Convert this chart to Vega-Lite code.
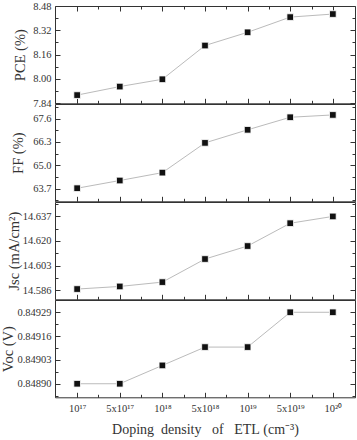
{
  "$schema": "https://vega.github.io/schema/vega-lite/v6.json",
  "padding": {"left": 0, "top": 0, "right": 0, "bottom": 0},
  "config": {
    "font": "Liberation Serif",
    "view": {"stroke": "#333", "strokeWidth": 1},
    "axis": {
      "domain": false,
      "grid": false,
      "tickColor": "#333",
      "tickWidth": 1,
      "labelFont": "Liberation Serif",
      "labelFontSize": 10.5,
      "labelColor": "#333",
      "labelFlush": false,
      "titleFont": "Liberation Serif",
      "titleFontWeight": "normal",
      "titleColor": "#333",
      "titleFontSize": 14.5
    }
  },
  "datasets": {
    "d": [
      {"idx": 0, "PCE": 7.894, "FF": 63.72, "Jsc": 14.5867, "Voc": 0.84890},
      {"idx": 1, "PCE": 7.950, "FF": 64.15, "Jsc": 14.5885, "Voc": 0.84890},
      {"idx": 2, "PCE": 7.998, "FF": 64.59, "Jsc": 14.5915, "Voc": 0.84900},
      {"idx": 3, "PCE": 8.220, "FF": 66.25, "Jsc": 14.6075, "Voc": 0.84910},
      {"idx": 4, "PCE": 8.307, "FF": 66.98, "Jsc": 14.6165, "Voc": 0.84910},
      {"idx": 5, "PCE": 8.407, "FF": 67.68, "Jsc": 14.6323, "Voc": 0.84929},
      {"idx": 6, "PCE": 8.427, "FF": 67.81, "Jsc": 14.6370, "Voc": 0.84929}
    ]
  },
  "spacing": 0,
  "bounds": "flush",
  "vconcat": [
    {
      "width": 300, "height": 97.3,
      "data": {"name": "d"},
      "resolve": {"axis": {"x": "independent", "y": "independent"}},
      "layer": [
        {"mark": {"type": "line", "color": "#bbbbbb", "strokeWidth": 1},
         "encoding": {
           "x": {"field": "idx", "type": "quantitative", "scale": {"domain": [-0.52, 6.52], "nice": false, "zero": false},
                 "axis": {"orient": "bottom", "values": [0,1,2,3,4,5,6], "tickSize": -5, "labels": false, "title": null}},
           "y": {"field": "PCE", "type": "quantitative", "scale": {"domain": [7.84, 8.48], "nice": false, "zero": false},
                 "axis": {"orient": "left", "values": [7.84, 8.0, 8.16, 8.32, 8.48], "format": ".2f", "tickSize": -5, "labelPadding": 9, "title": "PCE (%)", "titlePadding": 5}}}},
        {"mark": {"type": "point", "shape": "square", "filled": true, "size": 44, "color": "#111", "stroke": "#fff", "strokeWidth": 0.8, "opacity": 1},
         "encoding": {
           "x": {"field": "idx", "type": "quantitative", "scale": {"domain": [-0.52, 6.52], "nice": false, "zero": false},
                 "axis": {"orient": "bottom", "values": [0.5,1.5,2.5,3.5,4.5,5.5], "tickSize": -3, "labels": false, "title": null}},
           "y": {"field": "PCE", "type": "quantitative", "scale": {"domain": [7.84, 8.48], "nice": false, "zero": false},
                 "axis": {"orient": "left", "values": [7.92, 8.08, 8.24, 8.40], "tickSize": -3, "labels": false, "title": null}}}},
        {"mark": {"type": "point", "opacity": 0},
         "encoding": {
           "x": {"field": "idx", "type": "quantitative", "scale": {"domain": [-0.52, 6.52], "nice": false, "zero": false},
                 "axis": {"orient": "top", "values": [0,1,2,3,4,5,6], "tickSize": -5, "labels": false, "title": null}},
           "y": {"field": "PCE", "type": "quantitative", "scale": {"domain": [7.84, 8.48], "nice": false, "zero": false},
                 "axis": {"orient": "right", "values": [7.84, 8.0, 8.16, 8.32, 8.48], "tickSize": -5, "labels": false, "title": null}}}},
        {"mark": {"type": "point", "opacity": 0},
         "encoding": {
           "x": {"field": "idx", "type": "quantitative", "scale": {"domain": [-0.52, 6.52], "nice": false, "zero": false},
                 "axis": {"orient": "top", "values": [0.5,1.5,2.5,3.5,4.5,5.5], "tickSize": -3, "labels": false, "title": null}},
           "y": {"field": "PCE", "type": "quantitative", "scale": {"domain": [7.84, 8.48], "nice": false, "zero": false},
                 "axis": {"orient": "right", "values": [7.92, 8.08, 8.24, 8.40], "tickSize": -3, "labels": false, "title": null}}}}
      ]
    },
    {
      "width": 300, "height": 97.3,
      "data": {"name": "d"},
      "resolve": {"axis": {"x": "independent", "y": "independent"}},
      "layer": [
        {"mark": {"type": "line", "color": "#bbbbbb", "strokeWidth": 1},
         "encoding": {
           "x": {"field": "idx", "type": "quantitative", "scale": {"domain": [-0.52, 6.52], "nice": false, "zero": false},
                 "axis": {"orient": "bottom", "values": [0,1,2,3,4,5,6], "tickSize": -5, "labels": false, "title": null}},
           "y": {"field": "FF", "type": "quantitative", "scale": {"domain": [62.99, 68.42], "nice": false, "zero": false},
                 "axis": {"orient": "left", "values": [63.7, 65.0, 66.3, 67.6], "format": ".1f", "tickSize": -5, "labelPadding": 9, "title": "FF (%)", "titlePadding": 7}}}},
        {"mark": {"type": "point", "shape": "square", "filled": true, "size": 44, "color": "#111", "stroke": "#fff", "strokeWidth": 0.8, "opacity": 1},
         "encoding": {
           "x": {"field": "idx", "type": "quantitative", "scale": {"domain": [-0.52, 6.52], "nice": false, "zero": false},
                 "axis": {"orient": "bottom", "values": [0.5,1.5,2.5,3.5,4.5,5.5], "tickSize": -3, "labels": false, "title": null}},
           "y": {"field": "FF", "type": "quantitative", "scale": {"domain": [62.99, 68.42], "nice": false, "zero": false},
                 "axis": {"orient": "left", "values": [63.05, 64.35, 65.65, 66.95, 68.25], "tickSize": -3, "labels": false, "title": null}}}},
        {"mark": {"type": "point", "opacity": 0},
         "encoding": {
           "x": {"field": "idx", "type": "quantitative", "scale": {"domain": [-0.52, 6.52], "nice": false, "zero": false}, "axis": null},
           "y": {"field": "FF", "type": "quantitative", "scale": {"domain": [62.99, 68.42], "nice": false, "zero": false},
                 "axis": {"orient": "right", "values": [63.7, 65.0, 66.3, 67.6], "tickSize": -5, "labels": false, "title": null}}}},
        {"mark": {"type": "point", "opacity": 0},
         "encoding": {
           "x": {"field": "idx", "type": "quantitative", "scale": {"domain": [-0.52, 6.52], "nice": false, "zero": false}, "axis": null},
           "y": {"field": "FF", "type": "quantitative", "scale": {"domain": [62.99, 68.42], "nice": false, "zero": false},
                 "axis": {"orient": "right", "values": [63.05, 64.35, 65.65, 66.95, 68.25], "tickSize": -3, "labels": false, "title": null}}}}
      ]
    },
    {
      "width": 300, "height": 97.3,
      "data": {"name": "d"},
      "resolve": {"axis": {"x": "independent", "y": "independent"}},
      "layer": [
        {"mark": {"type": "line", "color": "#bbbbbb", "strokeWidth": 1},
         "encoding": {
           "x": {"field": "idx", "type": "quantitative", "scale": {"domain": [-0.52, 6.52], "nice": false, "zero": false},
                 "axis": {"orient": "bottom", "values": [0,1,2,3,4,5,6], "tickSize": -5, "labels": false, "title": null}},
           "y": {"field": "Jsc", "type": "quantitative", "scale": {"domain": [14.5796, 14.647], "nice": false, "zero": false},
                 "axis": {"orient": "left", "values": [14.586, 14.603, 14.62, 14.637], "format": ".3f", "tickSize": -5, "labelPadding": 9, "title": "Jsc (mA/cm²)", "titlePadding": 1}}}},
        {"mark": {"type": "point", "shape": "square", "filled": true, "size": 44, "color": "#111", "stroke": "#fff", "strokeWidth": 0.8, "opacity": 1},
         "encoding": {
           "x": {"field": "idx", "type": "quantitative", "scale": {"domain": [-0.52, 6.52], "nice": false, "zero": false},
                 "axis": {"orient": "bottom", "values": [0.5,1.5,2.5,3.5,4.5,5.5], "tickSize": -3, "labels": false, "title": null}},
           "y": {"field": "Jsc", "type": "quantitative", "scale": {"domain": [14.5796, 14.647], "nice": false, "zero": false},
                 "axis": {"orient": "left", "values": [14.5945, 14.6115, 14.6285, 14.6455], "tickSize": -3, "labels": false, "title": null}}}},
        {"mark": {"type": "point", "opacity": 0},
         "encoding": {
           "x": {"field": "idx", "type": "quantitative", "scale": {"domain": [-0.52, 6.52], "nice": false, "zero": false}, "axis": null},
           "y": {"field": "Jsc", "type": "quantitative", "scale": {"domain": [14.5796, 14.647], "nice": false, "zero": false},
                 "axis": {"orient": "right", "values": [14.586, 14.603, 14.62, 14.637], "tickSize": -5, "labels": false, "title": null}}}},
        {"mark": {"type": "point", "opacity": 0},
         "encoding": {
           "x": {"field": "idx", "type": "quantitative", "scale": {"domain": [-0.52, 6.52], "nice": false, "zero": false}, "axis": null},
           "y": {"field": "Jsc", "type": "quantitative", "scale": {"domain": [14.5796, 14.647], "nice": false, "zero": false},
                 "axis": {"orient": "right", "values": [14.5945, 14.6115, 14.6285, 14.6455], "tickSize": -3, "labels": false, "title": null}}}}
      ]
    },
    {
      "width": 300, "height": 97.3,
      "data": {"name": "d"},
      "resolve": {"axis": {"x": "independent", "y": "independent"}},
      "layer": [
        {"mark": {"type": "line", "color": "#bbbbbb", "strokeWidth": 1},
         "encoding": {
           "x": {"field": "idx", "type": "quantitative", "scale": {"domain": [-0.52, 6.52], "nice": false, "zero": false},
                 "axis": {"orient": "bottom", "values": [0,1,2,3,4,5,6], "tickSize": -5, "labelPadding": 11,
                          "labelExpr": "['10¹⁷','5x10¹⁷','10¹⁸','5x10¹⁸','10¹⁹','5x10¹⁹','10²⁰'][datum.value]",
                          "labelFontSize": 10.5, "title": "Doping\u00a0\u00a0density\u00a0\u00a0\u00a0of\u00a0\u00a0\u00a0ETL\u00a0(cm⁻³)", "titleFontSize": 14, "titlePadding": 9}},
           "y": {"field": "Voc", "type": "quantitative", "scale": {"domain": [0.848826, 0.849357], "nice": false, "zero": false},
                 "axis": {"orient": "left", "values": [0.8489, 0.84903, 0.84916, 0.84929], "format": ".5f", "tickSize": -5, "labelPadding": 9, "title": "Voc (V)", "titlePadding": 1}}}},
        {"mark": {"type": "point", "shape": "square", "filled": true, "size": 44, "color": "#111", "stroke": "#fff", "strokeWidth": 0.8, "opacity": 1},
         "encoding": {
           "x": {"field": "idx", "type": "quantitative", "scale": {"domain": [-0.52, 6.52], "nice": false, "zero": false},
                 "axis": {"orient": "bottom", "values": [0.5,1.5,2.5,3.5,4.5,5.5], "tickSize": -3, "labels": false, "title": null}},
           "y": {"field": "Voc", "type": "quantitative", "scale": {"domain": [0.848826, 0.849357], "nice": false, "zero": false},
                 "axis": {"orient": "left", "values": [0.848835, 0.848965, 0.849095, 0.849225, 0.849355], "tickSize": -3, "labels": false, "title": null}}}},
        {"mark": {"type": "point", "opacity": 0},
         "encoding": {
           "x": {"field": "idx", "type": "quantitative", "scale": {"domain": [-0.52, 6.52], "nice": false, "zero": false}, "axis": null},
           "y": {"field": "Voc", "type": "quantitative", "scale": {"domain": [0.848826, 0.849357], "nice": false, "zero": false},
                 "axis": {"orient": "right", "values": [0.8489, 0.84903, 0.84916, 0.84929], "tickSize": -5, "labels": false, "title": null}}}},
        {"mark": {"type": "point", "opacity": 0},
         "encoding": {
           "x": {"field": "idx", "type": "quantitative", "scale": {"domain": [-0.52, 6.52], "nice": false, "zero": false}, "axis": null},
           "y": {"field": "Voc", "type": "quantitative", "scale": {"domain": [0.848826, 0.849357], "nice": false, "zero": false},
                 "axis": {"orient": "right", "values": [0.848835, 0.848965, 0.849095, 0.849225, 0.849355], "tickSize": -3, "labels": false, "title": null}}}}
      ]
    }
  ]
}
